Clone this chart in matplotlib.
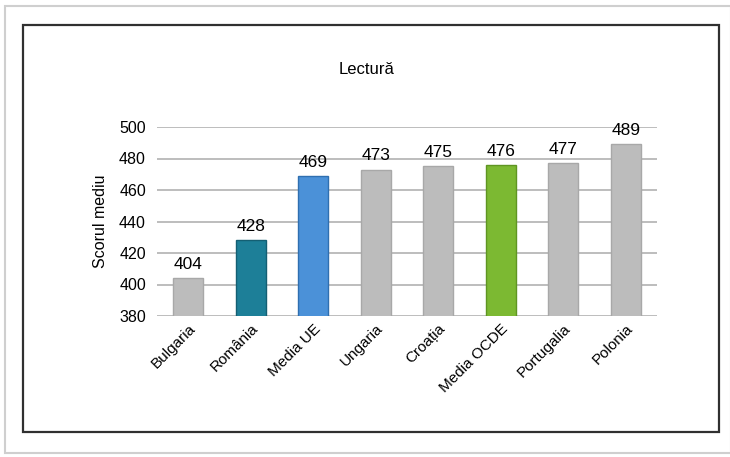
import matplotlib.pyplot as plt
from matplotlib.patches import Rectangle

tari = ['Bulgaria', 'România', 'Media UE', 'Ungaria', 'Croația',
        'Media OCDE', 'Portugalia', 'Polonia']
scoruri = [404, 428, 469, 473, 475, 476, 477, 489]
culori = ['#bcbcbc', '#1d7f98', '#4b91d8', '#bcbcbc', '#bcbcbc',
          '#7cb932', '#bcbcbc', '#bcbcbc']
margini = ['#a8a8a8', '#145f73', '#2f6fb0', '#a8a8a8', '#a8a8a8',
           '#5f9522', '#a8a8a8', '#a8a8a8']

plt.rcParams['font.family'] = ['Liberation Sans', 'DejaVu Sans']

fig = plt.figure(figsize=(7.3, 4.57), dpi=100)
# outer light frame and inner black frame
fig.patches.append(Rectangle((5/730, 1 - 453/457), 726/730, 447/457,
                             transform=fig.transFigure, fill=False,
                             edgecolor='#cfcfcf', linewidth=1.5))
fig.patches.append(Rectangle((23/730, 1 - 432/457), 696/730, 407/457,
                             transform=fig.transFigure, fill=False,
                             edgecolor='#303030', linewidth=1.6))

ax = fig.add_axes([157/730, 141/457, 500/730, 189/457])
x = range(len(tari))
ax.bar(x, scoruri, width=0.48, color=culori, edgecolor=margini,
       linewidth=1, zorder=3)
for i, v in enumerate(scoruri):
    ax.text(i, v + 4, str(v), ha='center', va='bottom', fontsize=12.5)

ax.set_ylim(380, 500)
ax.set_xlim(-0.5, len(tari) - 0.5)
ax.set_yticks(range(380, 501, 20))
ax.tick_params(axis='y', length=0, labelsize=11.5, pad=8)
ax.tick_params(axis='x', length=0, labelsize=11, pad=4)
ax.set_xticks(list(x))
ax.set_xticklabels(tari, rotation=45, ha='right', rotation_mode='anchor')
ax.grid(axis='y', color='#bdbdbd', linewidth=1.4, zorder=0)
for s in ax.spines.values():
    s.set_visible(False)
ax.set_ylabel('Scorul mediu', fontsize=11.5, labelpad=8)

fig.text(367/730, 1 - 70/457, 'Lectură', ha='center', va='center', fontsize=12)

fig.savefig('out.png', dpi=100)
